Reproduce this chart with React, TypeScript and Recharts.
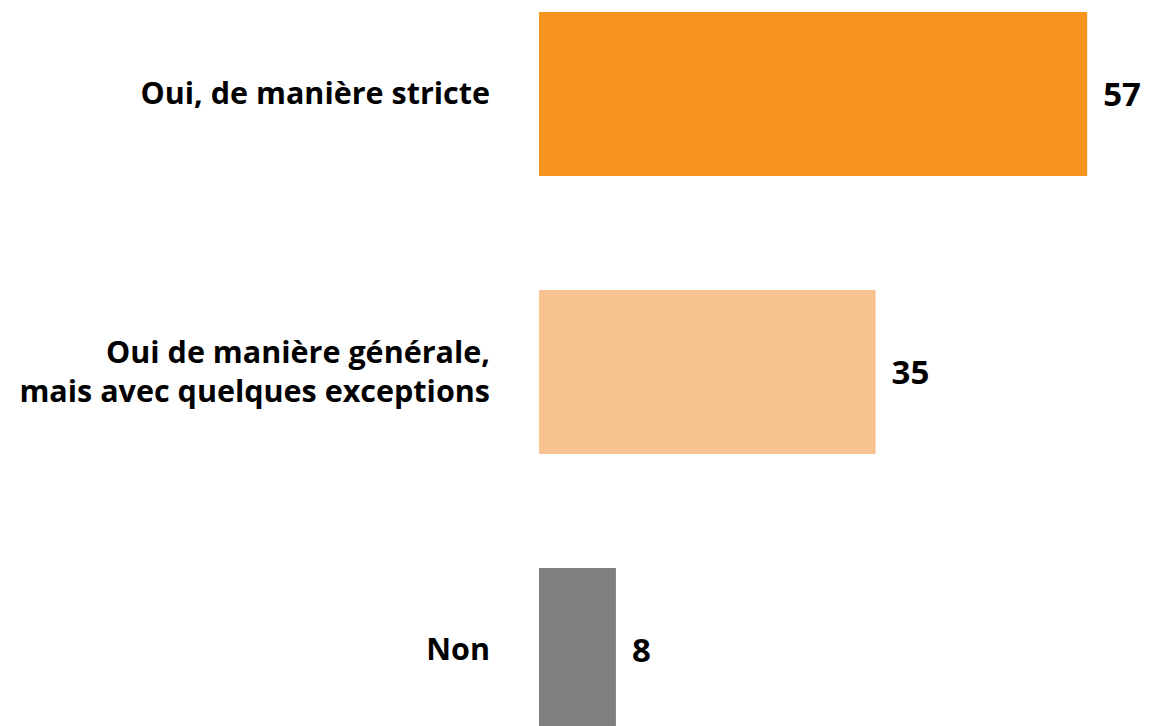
import React from "react";
import { BarChart, Bar, XAxis, YAxis, Cell, LabelList } from "recharts";

const categories = ["Oui, de manière stricte", "Oui de manière générale,\nmais avec quelques exceptions", "Non"];
const values = [57, 35, 8];
const colors = ["#F7941D", "#F9C291", "#808080"];

const data = categories.map((name, i) => ({ name, value: values[i] }));

const FONT = "'Open Sans', sans-serif";

function CategoryTick(props: any) {
  const { x, y, payload } = props;
  const lines = String(payload.value).split("\n");
  const lineH = 39;
  const start = -((lines.length - 1) * lineH) / 2;
  return (
    <text x={x} y={y} textAnchor="end" fill="#000" fontSize={30.5} fontWeight={700} fontFamily={FONT}>
      {lines.map((l, i) => (
        <tspan key={i} x={x} dy={i === 0 ? start + 10 : lineH}>
          {l}
        </tspan>
      ))}
    </text>
  );
}

export default function App() {
  return (
    <div style={{ position: "absolute", left: 0, top: 0, width: 1149, height: 726, overflow: "hidden", background: "#fff" }}>
      <div style={{ position: "absolute", left: 0, top: -45 }}>
        <BarChart
          width={1149}
          height={834}
          data={data}
          layout="vertical"
          margin={{ top: 0, right: 33, bottom: 0, left: 0 }}
        >
          <XAxis type="number" domain={[0, 60]} hide />
          <YAxis
            type="category"
            dataKey="name"
            width={539}
            axisLine={false}
            tickLine={false}
            tickSize={0}
            tickMargin={49}
            tick={<CategoryTick />}
          />
          <Bar dataKey="value" barSize={164} isAnimationActive={false}>
            {data.map((d, i) => (
              <Cell key={d.name} fill={colors[i]} />
            ))}
            <LabelList
              dataKey="value"
              position="right"
              offset={16}
              fill="#000"
              fontSize={33}
              fontWeight={700}
              fontFamily={FONT}
            />
          </Bar>
        </BarChart>
      </div>
    </div>
  );
}
